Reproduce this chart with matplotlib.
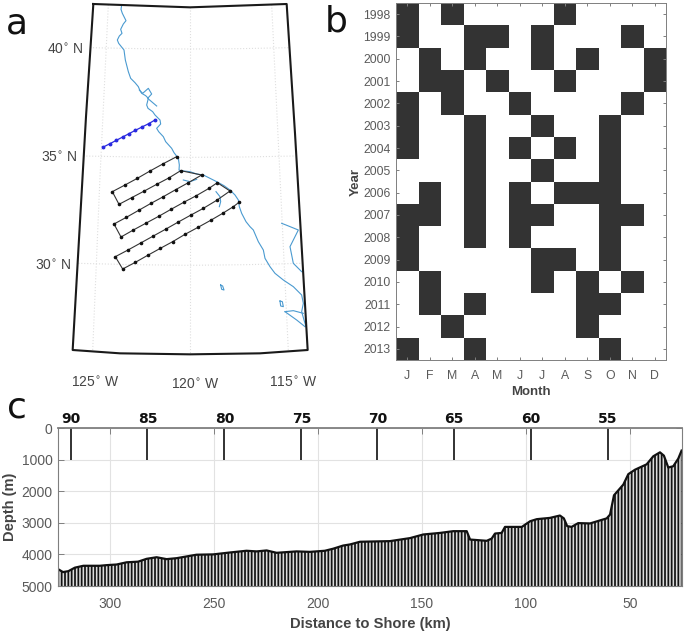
import matplotlib
matplotlib.use('Agg')
import matplotlib.pyplot as plt
import numpy as np

plt.rcParams['font.family'] = ['Liberation Sans', 'DejaVu Sans']
plt.rcParams['hatch.linewidth'] = 1.25

# ---------- panel a, map plane coordinates ----------
frame_x = [280, 570, 860, 885, 905, 923, 780, 570, 360, 218, 238, 258, 280]
frame_y = [12, 22, 12, 400, 740, 1050, 1060, 1063, 1060, 1050, 700, 350, 12]

coast_x = [365, 363, 367, 372, 378, 370, 362, 366, 358, 352, 356, 364, 372, 376, 385, 392, 405, 415, 420, 425,
           437, 445, 440, 444, 458, 465, 480, 482, 470, 476, 490, 497, 515, 522, 535, 538, 537,
           542, 570, 590, 610, 630, 650, 672, 690, 705, 715, 718, 725, 738, 750, 760, 775, 790, 795, 810,
           825, 850, 880, 905, 910, 905, 912, 918]
coast_y = [15, 28, 40, 50, 62, 72, 88, 100, 108, 120, 130, 140, 150, 180, 215, 235, 248, 260, 272, 280,
           287, 295, 315, 325, 335, 345, 360, 372, 385, 395, 410, 425, 445, 458, 475, 495, 510,
           512, 515, 522, 525, 535, 545, 557, 570, 585, 600, 620, 640, 665, 680, 690, 725, 750, 775, 800,
           820, 840, 860, 885, 910, 935, 960, 980]
bay_x = [418, 428, 445, 455, 443, 470]
bay_y = [270, 280, 265, 282, 295, 318]
river1_x = [845, 858, 895, 870, 880, 905]
river1_y = [670, 675, 690, 740, 790, 815]
river2_x = [855, 890, 915]
river2_y = [935, 960, 980]
river3_x = [855, 880, 910]
river3_y = [935, 932, 940]
island1_x = [662, 668, 672, 665, 662]
island1_y = [855, 858, 870, 868, 855]
island2_x = [840, 847, 850, 842, 840]
island2_y = [903, 905, 920, 918, 903]
channel_x = [550, 570, 590]
channel_y = [540, 545, 538]
channel2_x = [648, 660, 662, 658]
channel2_y = [575, 590, 605, 620]

line_stations_x = [
    [530, 490, 450, 412, 375, 337],
    [357, 395, 433, 470, 508, 542],
    [605, 565, 527, 490, 453, 416, 379, 342],
    [363, 400, 437, 476, 513, 551, 589, 627, 652],
    [690, 650, 610, 573, 535, 498, 460, 422, 384, 346],
    [368, 406, 443, 481, 518, 555, 594, 632, 668, 700, 717],
]
line_stations_y = [
    [470, 491, 513, 535, 555, 575],
    [613, 593, 573, 553, 533, 512],
    [525, 548, 569, 590, 610, 631, 652, 672],
    [711, 690, 670, 649, 628, 607, 587, 565, 548],
    [573, 601, 625, 645, 666, 687, 708, 729, 750, 770],
    [807, 787, 766, 745, 725, 703, 682, 661, 640, 620, 607],
]
blue_x = [310, 330, 349, 368, 387, 406, 426, 446, 465]
blue_y = [441, 431, 421, 411, 401, 391, 381, 371, 360]

grid_lat = [
    ([270, 420, 570, 720, 868], [143, 146, 147, 146, 143]),
    ([250, 410, 570, 730, 885], [468, 471, 472, 471, 468]),
    ([235, 400, 570, 740, 902], [790, 794, 796, 794, 790]),
]
grid_lon = [
    ([325, 300, 278], [14, 530, 1052]),
    ([570, 570, 570], [22, 540, 1063]),
    ([815, 840, 865], [14, 530, 1052]),
]
map_labels = [('40$^{\\circ}$ N', 142, 148), ('35$^{\\circ}$ N', 122, 472), ('30$^{\\circ}$ N', 106, 797),
              ('125$^{\\circ}$ W', 213, 1148), ('120$^{\\circ}$ W', 512, 1153), ('115$^{\\circ}$ W', 807, 1148)]

# ---------- panel b ----------
years = list(range(1998, 2014))
month_labels = ['J', 'F', 'M', 'A', 'M', 'J', 'J', 'A', 'S', 'O', 'N', 'D']
cruises = [
    [1, 0, 1, 0, 0, 0, 0, 1, 0, 0, 0, 0],
    [1, 0, 0, 1, 1, 0, 1, 0, 0, 0, 1, 0],
    [0, 1, 0, 1, 0, 0, 1, 0, 1, 0, 0, 1],
    [0, 1, 1, 0, 1, 0, 0, 1, 0, 0, 0, 1],
    [1, 0, 1, 0, 0, 1, 0, 0, 0, 0, 1, 0],
    [1, 0, 0, 1, 0, 0, 1, 0, 0, 1, 0, 0],
    [1, 0, 0, 1, 0, 1, 0, 1, 0, 1, 0, 0],
    [0, 0, 0, 1, 0, 0, 1, 0, 0, 1, 0, 0],
    [0, 1, 0, 1, 0, 1, 0, 1, 1, 1, 0, 0],
    [1, 1, 0, 1, 0, 1, 1, 0, 0, 1, 1, 0],
    [1, 0, 0, 1, 0, 1, 0, 0, 0, 1, 0, 0],
    [1, 0, 0, 0, 0, 0, 1, 1, 0, 1, 0, 0],
    [0, 1, 0, 0, 0, 0, 1, 0, 1, 0, 1, 0],
    [0, 1, 0, 1, 0, 0, 0, 0, 1, 1, 0, 0],
    [0, 0, 1, 0, 0, 0, 0, 0, 1, 0, 0, 0],
    [1, 0, 0, 1, 0, 0, 0, 0, 0, 1, 0, 0],
]

# ---------- panel c ----------
dist_km = [325, 322.6, 320, 316.9, 312.8, 304.9, 301.6, 296.8, 292, 286.5, 282.4, 277.6, 272.8, 268,
           263.2, 258.4, 250.4, 242.4, 234.4, 229.5, 224.7, 219.9, 210.3, 203.9, 196.7, 192.7, 187.9,
           184.6, 179.8, 165.4, 155.8, 149.4, 141.3, 135, 128.5, 126.9, 118.9, 116.5, 114.9, 111.7,
           110.1, 102, 98, 94.8, 88.5, 83.7, 81.8, 80.2, 78.1, 74.9, 69.2, 61.2, 59.6, 57.7, 53.2,
           50.8, 47.6, 42, 38.8, 35.6, 33.7, 31.6, 29.2, 26.8, 25.2]
depth_m = [4465, 4560, 4530, 4420, 4360, 4360, 4340, 4320, 4250, 4230, 4140, 4090, 4150, 4120,
           4065, 4010, 4000, 3940, 3885, 3905, 3875, 3950, 3905, 3920, 3885, 3820, 3720,
           3685, 3600, 3580, 3485, 3370, 3320, 3265, 3265, 3530, 3570, 3500, 3340, 3320,
           3130, 3130, 2950, 2885, 2845, 2770, 2860, 3105, 3130, 3010, 3020, 2860, 2740, 2130, 1790,
           1460, 1320, 1150, 895, 770, 875, 1250, 1210, 970, 715]
station_km = [318.7, 282, 245, 208, 171.5, 134.6, 97.6, 60.8]
station_lab = [90, 85, 80, 75, 70, 65, 60, 55]

W, H = 685, 633
AX_GREY = '#7f7f7f'
TXT_GREY = '#5a5a5a'
COAST = '#4a9ad0'


def px_axes(fig, left, top, right, bottom):
    return fig.add_axes([left / W, 1 - bottom / H, (right - left) / W, (bottom - top) / H])


fig = plt.figure(figsize=(W / 100, H / 100), dpi=100)

# map
ax = px_axes(fig, 0, 0, 340, 390)
ax.set_xlim(0, 1020)
ax.set_ylim(1170, 0)
ax.axis('off')
for gx, gy in grid_lat + grid_lon:
    ax.plot(gx, gy, ls=':', color='#dedede', lw=0.8)
ax.plot(coast_x, coast_y, color=COAST, lw=0.8)
for rx, ry in [(bay_x, bay_y), (river1_x, river1_y), (river2_x, river2_y), (river3_x, river3_y),
               (island1_x, island1_y), (island2_x, island2_y), (channel_x, channel_y), (channel2_x, channel2_y)]:
    ax.plot(rx, ry, color=COAST, lw=0.8)
ax.plot(frame_x, frame_y, color='#1a1a1a', lw=1.5)
route_x = sum(line_stations_x, [])
route_y = sum(line_stations_y, [])
ax.plot(route_x, route_y, color='#333333', lw=0.8)
ax.plot(route_x, route_y, ls='none', marker='o', ms=1.6, color='#111111')
ax.plot(blue_x, blue_y, color='#2a2ae0', lw=0.9, marker='o', ms=1.8)
for lab, lx, ly in map_labels:
    ax.text(lx, ly, lab, fontsize=10, color='#444444', ha='left', va='center')

# heatmap
ax = px_axes(fig, 396, 3, 666, 360)
xe = np.arange(0.5, 13.0)
ye = np.arange(1997.5, 2014.0)
ax.pcolormesh(xe, ye, np.array(cruises), cmap='gray_r', vmin=0, vmax=1.25)
ax.set_xlim(0.5, 12.5)
ax.set_ylim(2013.5, 1997.5)
ax.set_xticks(range(1, 13), month_labels)
ax.set_yticks(years)
ax.tick_params(direction='in', top=True, right=True, length=2.5, width=0.7, color=AX_GREY,
               labelcolor=TXT_GREY, labelsize=8.8, pad=4)
ax.tick_params(axis='x', pad=7)
for s in ax.spines.values():
    s.set_color(AX_GREY)
    s.set_linewidth(0.7)
ax.set_xlabel('Month', fontsize=9.5, fontweight='bold', color='#444444', labelpad=3)
ax.set_ylabel('Year', fontsize=9.5, fontweight='bold', color='#444444', labelpad=1)

# bathymetry
ax = px_axes(fig, 58, 428, 682, 586)
ax.fill_between(dist_km, depth_m, 5000, facecolor='#dcdcdc', edgecolor='#111111', hatch='|||||', lw=0)
ax.plot(dist_km, depth_m, color='#111111', lw=1.6)
ax.vlines(station_km, 0, 1000, color='#222222', lw=1.3)
for km, lab in zip(station_km, station_lab):
    ax.text(km, -70, str(lab), family='DejaVu Sans', fontsize=10, fontweight='bold', color='#111111',
            ha='center', va='bottom')
ax.set_xlim(325, 25)
ax.set_ylim(5000, 0)
ax.set_xticks([300, 250, 200, 150, 100, 50])
ax.set_yticks([0, 1000, 2000, 3000, 4000, 5000])
ax.grid(color='#e2e2e2', lw=0.8)
ax.set_axisbelow(True)
ax.tick_params(direction='in', top=True, right=True, length=4, width=0.7, color=AX_GREY,
               labelcolor=TXT_GREY, labelsize=10, pad=4)
ax.tick_params(axis='x', pad=8)
for s in ax.spines.values():
    s.set_color(AX_GREY)
    s.set_linewidth(0.8)
ax.spines['top'].set_linewidth(1.3)
ax.set_xlabel('Distance to Shore (km)', fontsize=10.6, fontweight='bold', color='#444444', labelpad=4)
ax.set_ylabel('Depth (m)', fontsize=10.5, fontweight='bold', color='#444444', labelpad=3)

# panel letters
for lab, lx, ly in [('a', 6, 23), ('b', 325, 21), ('c', 7, 407)]:
    fig.text(lx / W, 1 - ly / H, lab, family='DejaVu Sans', fontsize=26, color='#111111', ha='left', va='center')

fig.savefig('out.png', dpi=100)
